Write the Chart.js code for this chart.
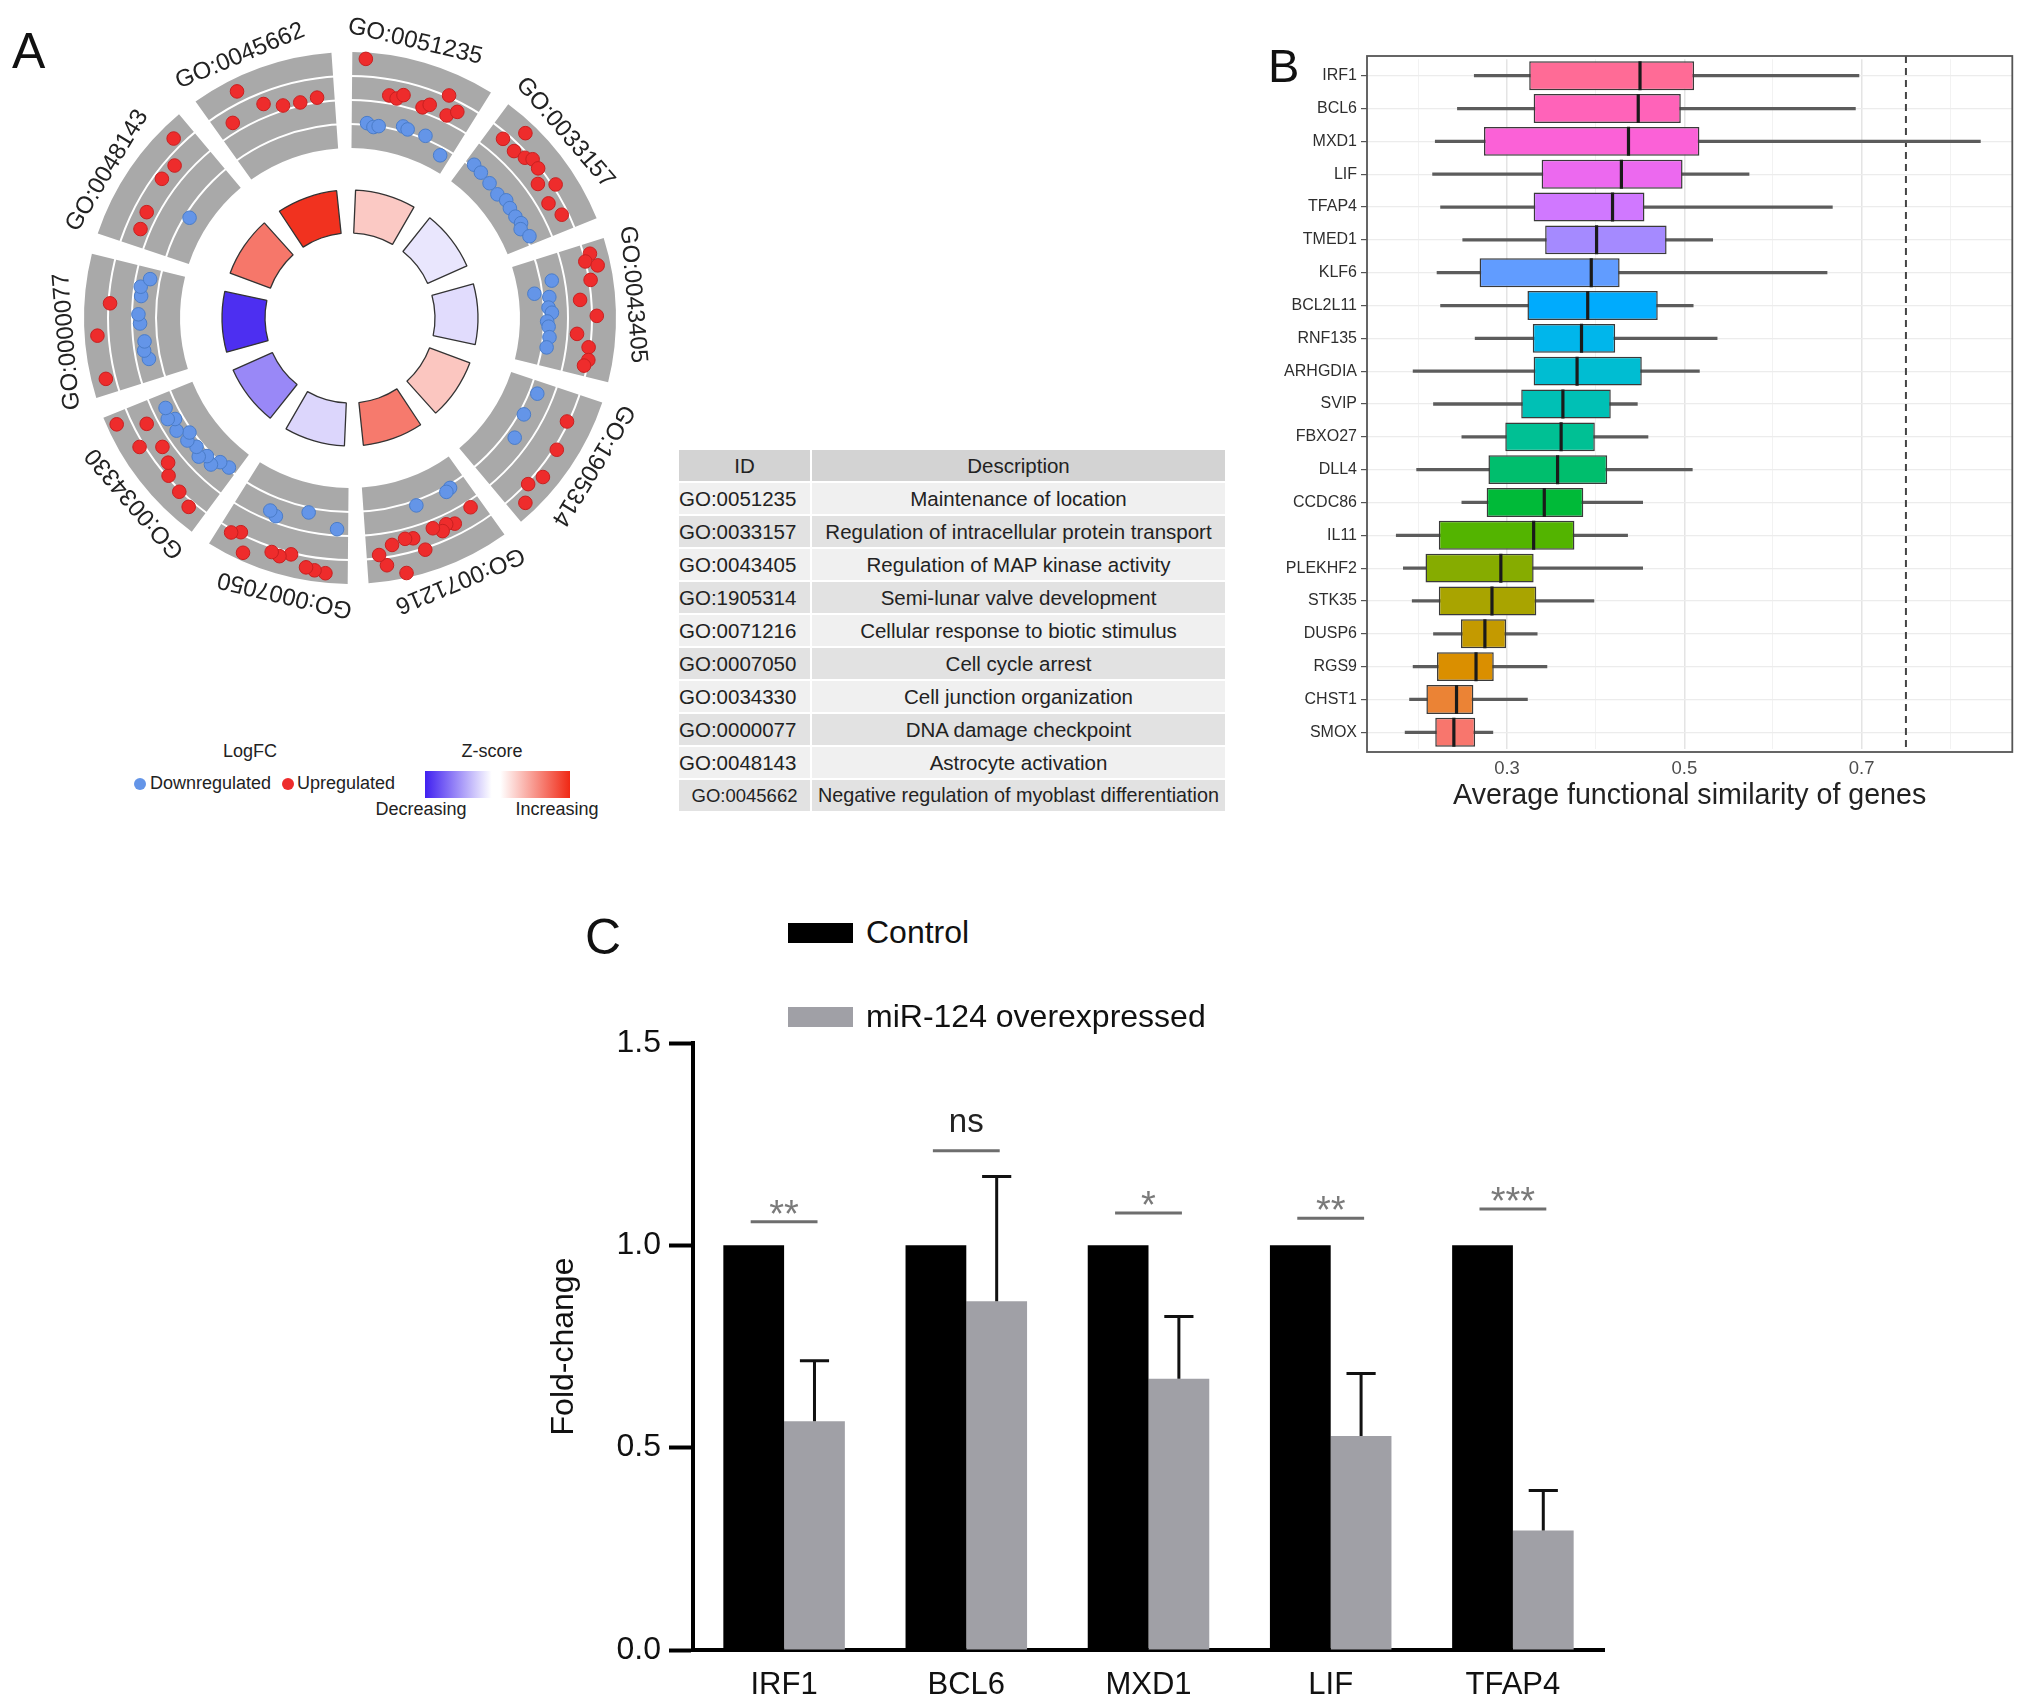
<!DOCTYPE html>
<html>
<head>
<meta charset="utf-8">
<script src="https://cdn.jsdelivr.net/npm/chart.js@4.4.1/dist/chart.umd.min.js"></script>
<style>
  body { margin: 0; background: #fff; font-family: "Liberation Sans", Arial, sans-serif; }
  #page { position: relative; width: 2032px; height: 1707px; overflow: hidden; background: #fff; }
  canvas { position: absolute; }
  .abs { position: absolute; white-space: nowrap; color: #222; }
  .plabel { position: absolute; font-size: 50px; line-height: 1; color: #111; }
  #goTable { position: absolute; left: 677px; top: 448px; border-collapse: separate; border-spacing: 2px; font-size: 20.5px; color: #222; }
  #goTable th, #goTable td { height: 31px; padding: 0; font-weight: normal; white-space: nowrap; }
  #goTable th { background: #d3d3d3; text-align: center; }
  #goTable td.id { width: 131px; text-align: left; }
  #goTable td.desc { width: 413px; max-width: 413px; text-align: center; }
  #goTable tr.odd td { background: #f0f0f0; }
  #goTable tr.even td { background: #e2e2e2; }
</style>
</head>
<body>
<div id="page">
  <canvas id="a1" width="640" height="640" style="left:30px;top:-2px"></canvas>
  <canvas id="a2" width="640" height="640" style="left:30px;top:-2px"></canvas>
  <canvas id="a3" width="640" height="640" style="left:30px;top:-2px"></canvas>
  <canvas id="b" width="800" height="787" style="left:1230px;top:30px"></canvas>
  <canvas id="c" width="1100" height="717" style="left:540px;top:990px"></canvas>

  <div class="plabel" style="left:12px;top:26px">A</div>
  <div class="plabel" style="left:1268px;top:42px;font-size:47px">B</div>
  <div class="plabel" style="left:585px;top:912px">C</div>

  <!-- panel A legend -->
  <div class="abs" style="left:250px;top:741px;font-size:18px;transform:translateX(-50%)">LogFC</div>
  <div class="abs" style="left:134px;top:778px;width:12px;height:12px;border-radius:50%;background:#6495e8"></div>
  <div class="abs" style="left:150px;top:773px;font-size:18px">Downregulated</div>
  <div class="abs" style="left:282px;top:778px;width:12px;height:12px;border-radius:50%;background:#ee2c2c"></div>
  <div class="abs" style="left:297px;top:773px;font-size:18px">Upregulated</div>
  <div class="abs" style="left:492px;top:741px;font-size:18px;transform:translateX(-50%)">Z-score</div>
  <div class="abs" style="left:425px;top:771px;width:145px;height:27px;background:linear-gradient(to right, rgb(64,32,240), #fff 46%, #fff 52%, rgb(240,40,20))"></div>
  <div class="abs" style="left:421px;top:799px;font-size:18px;transform:translateX(-50%)">Decreasing</div>
  <div class="abs" style="left:557px;top:799px;font-size:18px;transform:translateX(-50%)">Increasing</div>

  <table id="goTable"></table>

  <!-- panel C legend -->
  <div class="abs" style="left:788px;top:923px;width:65px;height:20px;background:#000"></div>
  <div class="abs" style="left:866px;top:914px;font-size:32px;color:#111">Control</div>
  <div class="abs" style="left:788px;top:1007px;width:65px;height:20px;background:#a0a0a6"></div>
  <div class="abs" style="left:866px;top:998px;font-size:32px;color:#111">miR-124 overexpressed</div>
</div>

<script>
Chart.defaults.font.family = '"Liberation Sans", Arial, sans-serif';

// ---- panel A data ----
const goIds = ['GO:0051235', 'GO:0033157', 'GO:0043405', 'GO:1905314', 'GO:0071216',
               'GO:0007050', 'GO:0034330', 'GO:0000077', 'GO:0048143', 'GO:0045662'];
const goDesc = ['Maintenance of location', 'Regulation of intracellular protein transport',
                'Regulation of MAP kinase activity', 'Semi-lunar valve development',
                'Cellular response to biotic stimulus', 'Cell cycle arrest',
                'Cell junction organization', 'DNA damage checkpoint',
                'Astrocyte activation', 'Negative regulation of myoblast differentiation'];
const zScores = [0.75, -0.34, -0.47, 0.8, 1.86, -0.55, -1.6, -2.8, 1.9, 2.86];
// logFC of the genes in each term, in clockwise order
const lfcByTerm = [
  [2.6, -1.4, -1.6, -1.5, 0.5, 0.4, 0.7, -1.2, -1.3, 0.3, 0.6, -1.3, 1.6, 0.4, 0.9, -2.0],
  [-1.3, 1.1, -1.4, 2.3, 1.0, -1.5, 1.2, 1.5, -1.6, 1.4, -1.4, 0.8, -1.5, 1.7, -1.5, 0.7, -1.4, -1.6, 1.1, -1.3],
  [1.9, 1.5, 2.2, -0.8, 1.6, -2.0, -1.1, 0.8, -1.2, -1.0, 1.8, -1.3, -1.2, 0.6, -1.1, 1.4, -1.2, 1.5, 1.3],
  [-1.0, 1.4, -1.2, 1.7, -0.9, 2.0, 1.6, 2.3],
  [0.4, -1.3, -1.2, 0.8, 0.6, 0.9, 0.5, -1.2, 1.6, 0.7, 0.6, 2.7, 0.8, 2.0, 1.3],
  [-0.4, 2.4, 2.3, 2.2, -1.2, 1.6, 1.9, 1.8, -0.4, -0.6, 2.5, 1.4, 1.7],
  [-1.6, 1.9, -1.5, -1.0, 1.6, -1.2, -0.8, 1.4, -1.1, 0.9, -0.9, -1.3, 0.6, -0.7, 1.8, -1.0, -0.6, 0.7, -0.8, 2.4],
  [2.1, -0.8, -0.6, -0.7, 2.2, -0.5, -0.4, 1.4, -0.5, -0.4, -0.9],
  [0.6, 0.7, -1.8, 1.0, 0.9, 2.1],
  [0.6, 2.2, 0.8, 0.3, 0.2, 0.3]
];
const lfcLines = [-1.5, 0, 1.5];

// ---- panel B data ----
const genes = ['IRF1', 'BCL6', 'MXD1', 'LIF', 'TFAP4', 'TMED1', 'KLF6', 'BCL2L11', 'RNF135', 'ARHGDIA',
               'SVIP', 'FBXO27', 'DLL4', 'CCDC86', 'IL11', 'PLEKHF2', 'STK35', 'DUSP6', 'RGS9', 'CHST1', 'SMOX'];
const whiskLo = [0.263, 0.244, 0.219, 0.216, 0.225, 0.250, 0.221, 0.225, 0.264, 0.194, 0.217,
                 0.249, 0.198, 0.249, 0.175, 0.183, 0.193, 0.217, 0.194, 0.190, 0.185];
const boxQ1 = [0.325, 0.330, 0.274, 0.339, 0.330, 0.343, 0.269, 0.323, 0.329, 0.330, 0.316,
               0.298, 0.279, 0.277, 0.223, 0.208, 0.223, 0.248, 0.221, 0.209, 0.219];
const boxMed = [0.450, 0.448, 0.437, 0.429, 0.419, 0.401, 0.395, 0.391, 0.384, 0.379, 0.363,
                0.361, 0.357, 0.342, 0.330, 0.293, 0.283, 0.275, 0.265, 0.243, 0.240];
const boxQ3 = [0.511, 0.496, 0.517, 0.498, 0.455, 0.480, 0.427, 0.470, 0.422, 0.452, 0.417,
               0.399, 0.413, 0.386, 0.376, 0.330, 0.333, 0.299, 0.285, 0.262, 0.264];
const whiskHi = [0.697, 0.693, 0.834, 0.573, 0.667, 0.532, 0.661, 0.510, 0.537, 0.517, 0.447,
                 0.459, 0.509, 0.453, 0.436, 0.453, 0.398, 0.334, 0.345, 0.323, 0.284];
const simTicks = [0.2, 0.3, 0.4, 0.5, 0.6, 0.7, 0.8];
const simLabels = [0.3, 0.5, 0.7];
const simCutoff = 0.75;

// ---- panel C data ----
const cGenes = ['IRF1', 'BCL6', 'MXD1', 'LIF', 'TFAP4'];
const control = [1, 1, 1, 1, 1];
const mir124 = [0.565, 0.862, 0.670, 0.529, 0.295];
const mir124Err = [0.150, 0.308, 0.154, 0.154, 0.099];
const sigText = ['**', 'ns', '*', '**', '***'];
const sigY = [1.058, 1.234, 1.080, 1.067, 1.090];

// ---- table ----
const table = document.getElementById('goTable');
table.innerHTML = '<tr><th>ID</th><th>Description</th></tr>' + goIds.map((id, i) =>
  `<tr class="${i % 2 ? 'even' : 'odd'}"><td class="id"${i === 9 ? ' style="text-align:center;font-size:18.5px"' : ''}>${id}</td>` +
  `<td class="desc"${i === 9 ? ' style="font-size:19.8px"' : ''}>${goDesc[i]}</td></tr>`).join('');

// ---- helpers ----
const Z_LOW = [64, 32, 240], Z_HIGH = [240, 40, 20];
function zColor(z) {
  const t = Math.max(-1, Math.min(1, z / 3));
  const end = t < 0 ? Z_LOW : Z_HIGH, f = Math.abs(t);
  const c = end.map(v => Math.round(255 + (v - 255) * f));
  return `rgb(${c[0]},${c[1]},${c[2]})`;
}
function hcl(h, c, l) {
  const hr = h * Math.PI / 180;
  const U = c * Math.cos(hr), V = c * Math.sin(hr);
  const Xn = 0.95047, Yn = 1, Zn = 1.08883;
  const un = 4 * Xn / (Xn + 15 * Yn + 3 * Zn), vn = 9 * Yn / (Xn + 15 * Yn + 3 * Zn);
  const Y = l > 8 ? Math.pow((l + 16) / 116, 3) : l / 903.3;
  const u = U / (13 * l) + un, v = V / (13 * l) + vn;
  const X = 9 * Y * u / (4 * v), Z = Y * (12 - 3 * u - 20 * v) / (4 * v);
  const lin = [3.240479 * X - 1.53715 * Y - 0.498535 * Z,
               -0.969256 * X + 1.875992 * Y + 0.041556 * Z,
               0.055648 * X - 0.204043 * Y + 1.057311 * Z];
  const rgb = lin.map(x => {
    const g = x > 0.0031308 ? 1.055 * Math.pow(x, 1 / 2.4) - 0.055 : 12.92 * x;
    return Math.round(255 * Math.max(0, Math.min(1, g)));
  });
  return `rgb(${rgb.join(',')})`;
}
const base = { responsive: false, animation: false, events: [], devicePixelRatio: 1,
  plugins: { legend: { display: false }, tooltip: { enabled: false } } };

// ---- panel A: circle ----
const A_HALF = 320;
const R_OUT = 266, R_IN = 170, Z_OUT = 128, Z_IN = 85, LABEL_R = 284;
const STEP = 360 / goIds.length, SPAN = 31.5, Z_SPAN = 27.5, ROT = 0.5;
const LFC_MIN = -3, LFC_MAX = 3;

new Chart(document.getElementById('a1'), {
  type: 'doughnut',
  data: { labels: goIds.flatMap(id => [id, '']),
    datasets: [{ data: goIds.flatMap(() => [SPAN, STEP - SPAN]),
      backgroundColor: goIds.flatMap(() => ['#a9a9a9', 'rgba(0,0,0,0)']), borderWidth: 0 }] },
  options: { ...base, radius: R_OUT, cutout: (R_IN / R_OUT * 100) + '%', rotation: ROT },
  plugins: [{
    id: 'goLabels',
    afterDraw(chart) {
      const ctx = chart.ctx, meta = chart.getDatasetMeta(0);
      ctx.save();
      ctx.font = '24px "Liberation Sans", Arial, sans-serif';
      ctx.fillStyle = '#222';
      ctx.textAlign = 'center';
      ctx.textBaseline = 'middle';
      goIds.forEach((id, i) => {
        const arc = meta.data[2 * i];
        const mid = (arc.startAngle + arc.endAngle) / 2 - 3 * Math.PI / 180;
        ctx.save();
        ctx.translate(arc.x, arc.y);
        ctx.rotate(mid + Math.PI / 2);
        ctx.fillText(id, 0, -LABEL_R);
        ctx.restore();
      });
      ctx.restore();
    }
  }]
});

new Chart(document.getElementById('a2'), {
  type: 'doughnut',
  data: { labels: goIds.flatMap(id => [id, '']),
    datasets: [{ data: goIds.flatMap(() => [Z_SPAN, STEP - Z_SPAN]),
      backgroundColor: zScores.flatMap(z => [zColor(z), 'rgba(0,0,0,0)']),
      borderColor: zScores.flatMap(() => ['#333', 'rgba(0,0,0,0)']),
      borderWidth: zScores.flatMap(() => [1.3, 0]) }] },
  options: { ...base, radius: Z_OUT, cutout: (Z_IN / Z_OUT * 100) + '%', rotation: ROT + (SPAN - Z_SPAN) / 2 }
});

// genes of each term spread over its sector, radius = logFC
const SLOTS = 720, DOT_MARGIN = 2;
const lfcSlots = new Array(SLOTS).fill(null);
lfcByTerm.forEach((vals, i) => {
  const start = ROT + i * STEP + DOT_MARGIN, span = SPAN - 2 * DOT_MARGIN;
  vals.forEach((v, j) => {
    const ang = start + span * (j + 0.5) / vals.length;
    lfcSlots[Math.round(ang * SLOTS / 360) % SLOTS] = v;
  });
});
const pxPerLfc = (R_OUT - R_IN) / (LFC_MAX - LFC_MIN);
const rMin = LFC_MIN - R_IN / pxPerLfc;
const rMax = rMin + A_HALF / pxPerLfc;

new Chart(document.getElementById('a3'), {
  type: 'radar',
  data: { labels: new Array(SLOTS).fill(''),
    datasets: [{ data: lfcSlots, showLine: false, fill: false, pointRadius: 6.8, pointBorderWidth: 1,
      pointBackgroundColor: c => c.raw > 0 ? '#ee2c2c' : '#6495e8',
      pointBorderColor: c => c.raw > 0 ? '#c82020' : '#4a7cc8' }] },
  options: { ...base, layout: { padding: 0 },
    scales: { r: { min: rMin, max: rMax,
      angleLines: { display: false }, pointLabels: { display: false }, ticks: { display: false },
      grid: { circular: true, color: '#ffffff', lineWidth: 2 },
      afterBuildTicks: s => { s.ticks = [rMin, ...lfcLines].map(v => ({ value: v })); } } } }
});

// ---- panel B: box plot ----
// ggplot pads a discrete axis by 0.6 of a step, Chart.js offset gives 0.5: frame sits EXP px outside
const EXP = 3.3;
const isMajor = c => !!(c.tick && simLabels.includes(c.tick.value));
const boxColors = genes.map((g, k) => hcl(15 + (genes.length - 1 - k) * 360 / genes.length, 100, 65));
new Chart(document.getElementById('b'), {
  type: 'bar',
  data: { labels: genes, datasets: [
    { type: 'bar', indexAxis: 'y', grouped: false, order: 3,
      data: genes.map((g, k) => [whiskLo[k], whiskHi[k]]), backgroundColor: '#5c5c5c', barThickness: 2.6 },
    { type: 'bar', indexAxis: 'y', grouped: false, order: 2,
      data: genes.map((g, k) => [boxQ1[k], boxQ3[k]]), backgroundColor: boxColors,
      borderColor: '#3a3a3a', borderWidth: 1.5, borderSkipped: false, barPercentage: 0.88, categoryPercentage: 1 },
    { type: 'scatter', order: 1, data: genes.map((g, k) => ({ x: boxMed[k], y: g })),
      pointStyle: 'line', pointRotation: 90, pointRadius: 14.5,
      pointBorderColor: '#1a1a1a', pointBorderWidth: 3.2 }
  ] },
  options: { ...base, layout: { padding: { top: 26 + EXP, right: 17, left: 0, bottom: 0 } },
    scales: {
      x: { type: 'linear', min: 0.142, max: 0.87, offset: false, bounds: 'data',
        afterBuildTicks: s => { s.ticks = simTicks.map(v => ({ value: v })); },
        afterFit: s => { s.height = 65 + EXP; },
        border: { display: false },
        grid: { offset: false, drawTicks: false, color: c => isMajor(c) ? '#e4e4e4' : '#f1f1f1',
                lineWidth: c => isMajor(c) ? 1.5 : 0.9 },
        ticks: { padding: 6 + EXP, color: '#4d4d4d', font: { size: 18.5 },
                 callback: v => simLabels.includes(v) ? v.toFixed(1) : '' },
        title: { display: true, text: 'Average functional similarity of genes', color: '#222',
                 font: { size: 28.6 }, padding: { top: 0, bottom: 4 } } },
      y: { type: 'category', offset: true,
        afterFit: s => { s.width = 137; },
        border: { display: false },
        grid: { offset: false, color: '#ececec', lineWidth: 1.2, tickLength: 6, tickColor: '#555', tickWidth: 1.2 },
        ticks: { padding: 4, color: '#2e2e2e', font: { size: 16 } } }
    } },
  plugins: [{
    id: 'panelFrame',
    beforeDatasetsDraw(chart) {
      const { ctx, chartArea: a } = chart, x = chart.scales.x.getPixelForValue(simCutoff);
      ctx.save();
      ctx.strokeStyle = '#444'; ctx.lineWidth = 2; ctx.setLineDash([7, 5]);
      ctx.beginPath(); ctx.moveTo(x, a.top - EXP); ctx.lineTo(x, a.bottom + EXP); ctx.stroke();
      ctx.restore();
    },
    afterDraw(chart) {
      const { ctx, chartArea: a } = chart;
      ctx.save();
      ctx.strokeStyle = '#555'; ctx.lineWidth = 1.8;
      ctx.strokeRect(a.left, a.top - EXP, a.right - a.left, a.bottom - a.top + 2 * EXP);
      ctx.restore();
    }
  }]
});

// ---- panel C: bar chart ----
new Chart(document.getElementById('c'), {
  type: 'bar',
  data: { labels: cGenes, datasets: [
    { label: 'Control', data: control, backgroundColor: '#000' },
    { label: 'miR-124 overexpressed', data: mir124, backgroundColor: '#a0a0a6' }
  ] },
  options: { ...base, layout: { padding: { top: 53, right: 36, left: 0, bottom: 0 } },
    datasets: { bar: { categoryPercentage: 0.667, barPercentage: 1 } },
    scales: {
      x: { afterFit: s => { s.height = 57; },
        grid: { display: false }, border: { display: true, width: 4, color: '#000' },
        ticks: { padding: 9, color: '#111', font: { size: 31 } } },
      y: { min: 0, max: 1.5, afterFit: s => { s.width = 153; },
        border: { display: true, width: 4, color: '#000' },
        grid: { drawOnChartArea: false, tickLength: 24, tickWidth: 4, tickColor: '#000' },
        ticks: { stepSize: 0.5, padding: 8, color: '#111', font: { size: 32 }, callback: v => v.toFixed(1) },
        title: { display: true, text: 'Fold-change', color: '#111', font: { size: 32 }, padding: { top: 5, bottom: 0 } } }
    } },
  plugins: [{
    id: 'errorsAndStars',
    afterDatasetsDraw(chart) {
      const { ctx } = chart, y = chart.scales.y;
      const ctrl = chart.getDatasetMeta(0).data, mir = chart.getDatasetMeta(1).data;
      ctx.save();
      ctx.strokeStyle = '#111'; ctx.lineWidth = 3;
      mir.forEach((bar, i) => {
        const top = y.getPixelForValue(mir124[i] + mir124Err[i]), cap = bar.width * 0.24;
        ctx.beginPath();
        ctx.moveTo(bar.x, bar.y); ctx.lineTo(bar.x, top);
        ctx.moveTo(bar.x - cap, top); ctx.lineTo(bar.x + cap, top);
        ctx.stroke();
      });
      ctx.textAlign = 'center'; ctx.textBaseline = 'alphabetic';
      cGenes.forEach((g, i) => {
        const cx = (ctrl[i].x + mir[i].x) / 2, half = ctrl[i].width * 0.55, ly = y.getPixelForValue(sigY[i]);
        ctx.strokeStyle = '#6e6e6e'; ctx.lineWidth = 3;
        ctx.beginPath(); ctx.moveTo(cx - half, ly); ctx.lineTo(cx + half, ly); ctx.stroke();
        if (sigText[i] === 'ns') {
          ctx.fillStyle = '#222'; ctx.font = '33px "Liberation Sans", Arial, sans-serif';
          ctx.fillText(sigText[i], cx, ly - 19);
        } else {
          ctx.fillStyle = '#7a7a7a'; ctx.font = '38px "Liberation Sans", Arial, sans-serif';
          ctx.fillText(sigText[i], cx, ly + 5);
        }
      });
      ctx.restore();
    }
  }]
});
</script>
</body>
</html>
